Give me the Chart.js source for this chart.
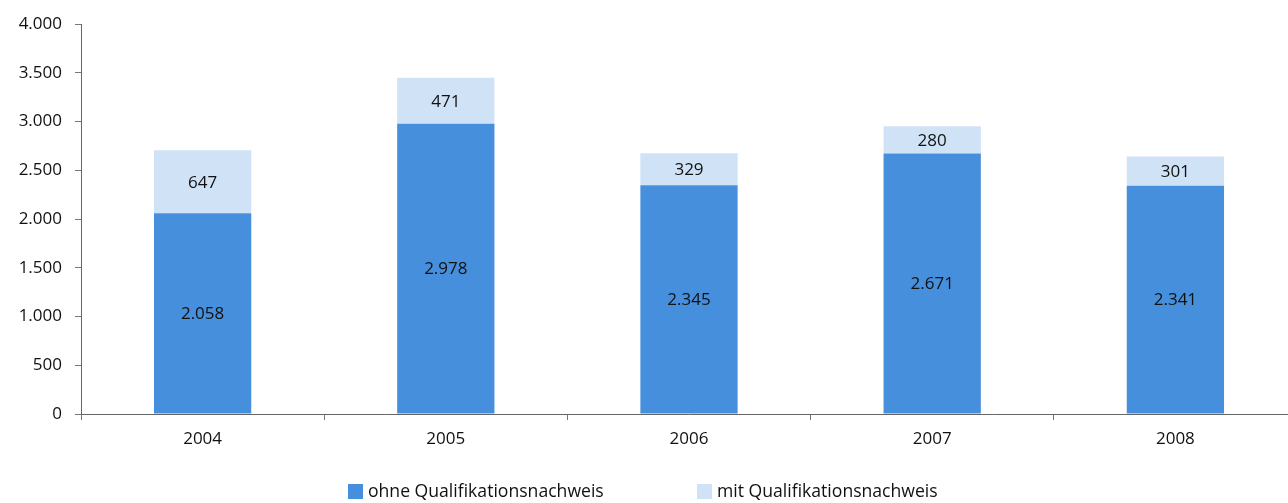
<!DOCTYPE html>
<html><head><meta charset="utf-8">
<script src="https://cdn.jsdelivr.net/npm/chart.js@4/dist/chart.umd.min.js"></script>
<style>html,body{margin:0;padding:0;overflow:hidden;background:#fff;width:1288px;height:503px}#wrap{width:1297px;height:503px}</style>
</head><body><div id="wrap"><canvas id="c" width="1297" height="503"></canvas></div>
<script>
const categories = ["2004","2005","2006","2007","2008"];
const ohneValues = [2058, 2978, 2345, 2671, 2341];
const mitValues = [647, 471, 329, 280, 301];
const seriesNames = ["ohne Qualifikationsnachweis","mit Qualifikationsnachweis"];
const yTicks = [0,500,1000,1500,2000,2500,3000,3500,4000];

const FONT = "'Open Sans'";
const DARK = "#468fdc", LIGHT = "#cfe2f6";

function fmt(v){ return v.toLocaleString('de-DE'); }

const labelPlugin = {
  id:'labels',
  afterDatasetsDraw(chart){
    const ctx = chart.ctx;
    ctx.save();
    ctx.font = "17px " + FONT;
    ctx.fillStyle = "#111";
    ctx.textAlign = "center"; ctx.textBaseline = "middle";
    chart.data.datasets.forEach((ds,i)=>{
      chart.getDatasetMeta(i).data.forEach((bar,j)=>{
        const p = bar.getProps(['x','y','base'],true);
        ctx.fillText(fmt(ds.data[j]), p.x, (p.y+p.base)/2 + 1);
      });
    });
    ctx.restore();
  },
  afterDraw(chart){
    const ctx = chart.ctx;
    ctx.save();
    ctx.font = "17.6px " + FONT;
    ctx.textBaseline = "middle"; ctx.textAlign = "left";
    const items = [{x:348,c:DARK,t:seriesNames[0]},{x:697,c:LIGHT,t:seriesNames[1]}];
    const y = 492;
    items.forEach(it=>{
      ctx.fillStyle = it.c; ctx.fillRect(it.x, y-8, 15, 15);
      ctx.fillStyle = "#111"; ctx.fillText(it.t, it.x+20, y);
    });
    ctx.restore();
  }
};

new Chart(document.getElementById('c'), {
  type:'bar',
  data:{ labels:categories, datasets:[
    {label:seriesNames[0], data:ohneValues, backgroundColor:DARK, barPercentage:0.4, categoryPercentage:1},
    {label:seriesNames[1], data:mitValues, backgroundColor:LIGHT, barPercentage:0.4, categoryPercentage:1}
  ]},
  options:{
    responsive:false, animation:false,
    layout:{padding:{top:24,bottom:39,left:0,right:0}},
    plugins:{legend:{display:false}, tooltip:{enabled:false}},
    scales:{
      x:{stacked:true, offset:true,
        grid:{display:true, drawOnChartArea:false, drawTicks:true, tickLength:6, color:'#777', offset:true},
        border:{display:true,color:'#666',width:1},
        ticks:{font:{family:"Open Sans",size:17}, color:'#111', padding:9},
        afterFit(s){ s.height = 50; }
      },
      y:{stacked:true, min:0, max:4000,
        afterBuildTicks(s){ s.ticks = yTicks.map(v=>({value:v})); },
        grid:{display:true, drawOnChartArea:false, drawTicks:true, tickLength:6, color:'#777'},
        border:{display:true,color:'#666',width:1},
        ticks:{font:{family:"Open Sans",size:17}, color:'#111', padding:13, callback:v=>fmt(v)},
        afterFit(s){ s.width = 81; }
      }
    }
  },
  plugins:[labelPlugin]
});
</script></body></html>
